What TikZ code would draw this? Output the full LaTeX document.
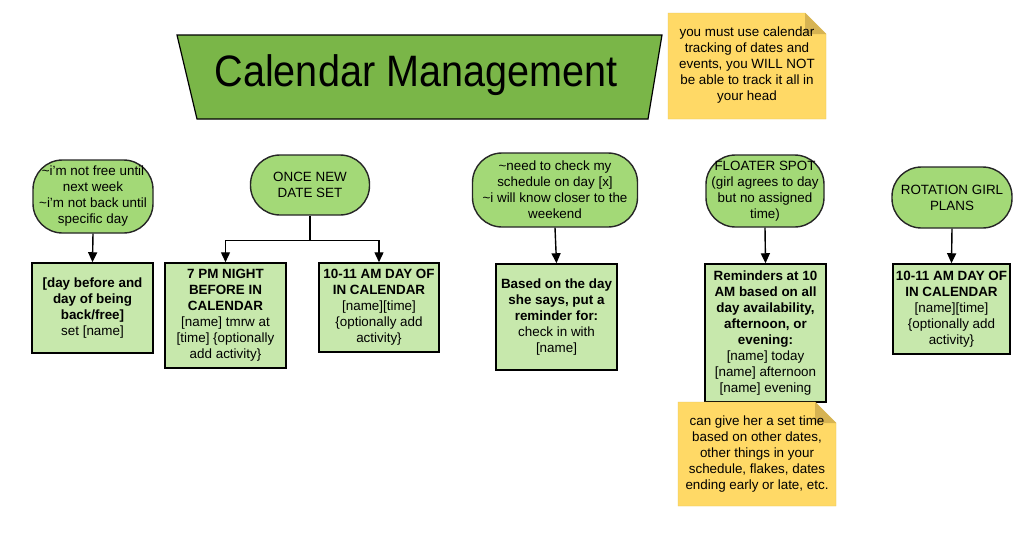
\documentclass[tikz,border=0pt]{standalone}
\usepackage{fontspec}
\setmainfont{Liberation Sans}
\usepackage{xcolor}
\usepackage{graphicx}
\usetikzlibrary{arrows.meta}

\definecolor{titlegreen}{HTML}{7AB648}
\definecolor{termgreen}{HTML}{A3D977}
\definecolor{boxgreen}{HTML}{C7E8AC}
\definecolor{noteyellow}{HTML}{FFD966}
\definecolor{noteedge}{HTML}{E6C55E}
\definecolor{notefold}{HTML}{D6B352}

\begin{document}
\begin{tikzpicture}[x=1pt,y=-1pt,
  every node/.style={font=\fontsize{13.4}{16}\selectfont, align=center, inner sep=0pt},
  term/.style={draw=black!85, line width=1.4pt, fill=termgreen, rounded corners=29.5pt},
  stepbox/.style={draw=black, line width=1.5pt, fill=boxgreen},
  arr/.style={line width=1.4pt, -{Triangle[length=10pt,width=9pt]}}]
\fill[white] (0,0) rectangle (1028,541);
\useasboundingbox (0,0) rectangle (1028,541);

% title
\draw[fill=titlegreen, line width=1.2pt] (177,35) -- (662,35) -- (648,119) -- (197,119) -- cycle;
\node (title) at (416,75) {\fontsize{44}{50}\selectfont\scalebox{0.9}[1]{Calendar Management}};

% notes
\draw[fill=noteyellow, draw=noteedge] (668,13) -- (805,13) -- (826,34) -- (826,119) -- (668,119) -- cycle;
\fill[notefold] (805,13) -- (826,34) -- (805,34) -- cycle;
\node (head) at (747,65) {you must use calendar\\tracking of dates and\\events, you WILL NOT\\be able to track it all in\\your head};

% top row
\node[term, minimum width=120pt, minimum height=73pt] (notfree) at (93,196.5)
  {\textasciitilde i'm not free until\\next week\\\textasciitilde i'm not back until\\specific day};
\node[term, minimum width=119pt, minimum height=60pt] (newdate) at (310,185) {ONCE NEW\\DATE SET};
\node[term, minimum width=165pt, minimum height=74pt] (checkday) at (555,190)
  {\textasciitilde need to check my\\schedule on day [x]\\\textasciitilde i will know closer to the\\weekend};
\node[term, minimum width=118pt, minimum height=72pt] (floater) at (765,191)
  {FLOATER SPOT\\(girl agrees to day\\but no assigned\\time)};
\node[term, minimum width=120pt, minimum height=61pt] (rotation) at (952,197.5) {ROTATION GIRL\\PLANS};

% bottom row
\node[stepbox, minimum width=121pt, minimum height=90pt] (backfree) at (92.5,308)
  {\textbf{[day before and}\\\textbf{day of being}\\\textbf{back/free]}\\set [name]};
\node[stepbox, minimum width=121pt, minimum height=105pt] (night) at (225.5,315.5)
  {\textbf{7 PM NIGHT}\\\textbf{BEFORE IN}\\\textbf{CALENDAR}\\{}[name] tmrw at\\{}[time] \{optionally\\add activity\}};
\node[stepbox, minimum width=120pt, minimum height=89pt] (dayof) at (379,307.5)
  {\textbf{10-11 AM DAY OF}\\\textbf{IN CALENDAR}\\{}[name][time]\\\{optionally add\\activity\}};
\node[stepbox, minimum width=121pt, minimum height=106pt] (remind) at (556.5,317)
  {\textbf{Based on the day}\\\textbf{she says, put a}\\\textbf{reminder for:}\\check in with\\{}[name]};
\node[stepbox, minimum width=121pt, minimum height=138pt] (tenam) at (765.5,333)
  {\textbf{Reminders at 10}\\\textbf{AM based on all}\\\textbf{day availability,}\\\textbf{afternoon, or}\\\textbf{evening:}\\{}[name] today\\{}[name] afternoon\\{}[name] evening};
\node[stepbox, minimum width=117pt, minimum height=90pt] (rotdayof) at (951.5,309)
  {\textbf{10-11 AM DAY OF}\\\textbf{IN CALENDAR}\\{}[name][time]\\\{optionally add\\activity\}};

\draw[fill=noteyellow, draw=noteedge] (678,402) -- (815,402) -- (836,423) -- (836,506) -- (678,506) -- cycle;
\fill[notefold] (815,402) -- (836,423) -- (815,423) -- cycle;
\node (settime) at (757,454) {can give her a set time\\based on other dates,\\other things in your\\schedule, flakes, dates\\ending early or late, etc.};

% arrows
\draw[arr] (notfree.south) -- (backfree.north);
\draw[line width=1.4pt] (newdate.south) -- ++(0,25) coordinate (split);
\draw[arr] (split) -| (night.north);
\draw[arr] (split) -| (dayof.north);
\draw[arr] (checkday.south) -- (remind.north);
\draw[arr] (floater.south) -- (tenam.north);
\draw[arr] (rotation.south) -- (rotdayof.north);
\end{tikzpicture}
\end{document}
